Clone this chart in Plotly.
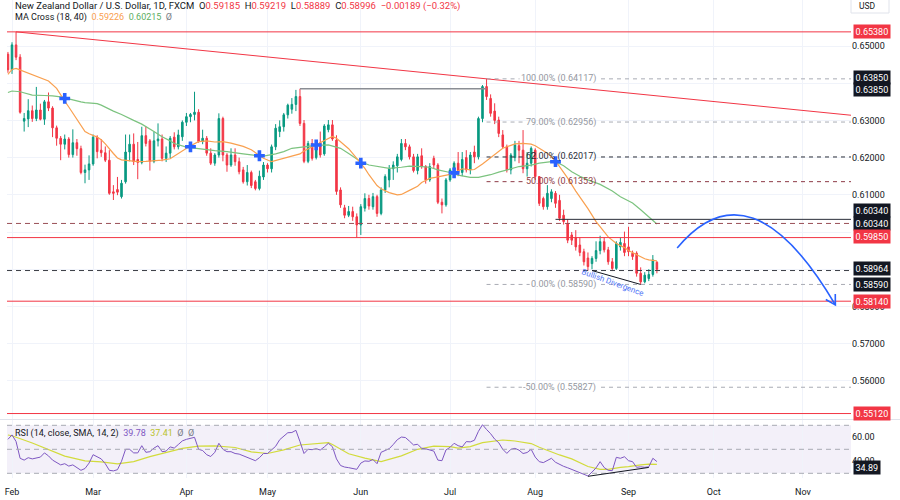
import math
import plotly.graph_objects as go
import pandas as pd

# ---------------- data ----------------
dates = pd.bdate_range("2023-01-31", "2023-09-12").strftime("%Y-%m-%d").tolist()
axis_days = pd.bdate_range("2023-01-31", "2023-11-30").strftime("%Y-%m-%d").tolist()

opens = [.6478, .6436, .6503, .6470, .6298, .6304, .6326, .6305, .6328, .6303,
         .6350, .6333, .6280, .6252, .6236, .6250, .6208, .6240, .6224, .6160,
         .6167, .6183, .6255, .6220, .6213, .6193, .6108, .6114, .6095, .6135,
         .6215, .6236, .6195, .6187, .6259, .6245, .6190, .6245, .6250, .6198,
         .6212, .6255, .6229, .6256, .6295, .6310, .6316, .6322, .6243, .6252,
         .6212, .6185, .6207, .6305, .6207, .6180, .6207, .6189, .6167, .6135,
         .6160, .6135, .6117, .6148, .6180, .6170, .6229, .6270, .6283, .6315,
         .6330, .6343, .6364, .6292, .6190, .6238, .6200, .6240, .6210, .6275,
         .6288, .6247, .6113, .6065, .6045, .6055, .6041, .6019, .6064, .6090,
         .6068, .6095, .6050, .6113, .6140, .6170, .6178, .6195, .6238, .6229,
         .6202, .6165, .6205, .6176, .6140, .6198, .6180, .6080, .6073, .6140,
         .6167, .6185, .6160, .6200, .6167, .6215, .6202, .6305, .6391, .6359,
         .6325, .6301, .6261, .6229, .6167, .6200, .6232, .6220, .6170, .6185,
         .6220, .6149, .6090, .6068, .6090, .6104, .6085, .6045, .6023, .5992,
         .5985, .5965, .5947, .5930, .5915, .5929, .5950, .5974, .5952, .5920,
         .5902, .5960, .5969, .5960, .5943, .5943, .5889, .5866, .5875, .5886,
         .59185]
highs = [.6484, .6510, .6538, .6478, .6320, .6357, .6340, .6390, .6345, .6355,
         .6375, .6338, .6286, .6258, .6262, .6255, .6276, .6250, .6232, .6181,
         .6206, .6262, .6260, .6250, .6230, .6220, .6126, .6148, .6140, .6262,
         .6262, .6265, .6242, .6283, .6284, .6250, .6270, .6292, .6262, .6230,
         .6258, .6268, .6275, .6300, .6320, .6320, .6377, .6330, .6275, .6258,
         .6225, .6212, .6319, .6310, .6212, .6225, .6225, .6200, .6175, .6180,
         .6165, .6140, .6165, .6188, .6185, .6235, .6290, .6300, .6320, .6345,
         .6360, .6382, .6385, .6301, .6245, .6250, .6240, .6270, .6290, .6301,
         .6301, .6260, .6120, .6073, .6070, .6068, .6050, .6075, .6104, .6100,
         .6105, .6100, .6120, .6155, .6180, .6190, .6210, .6250, .6250, .6235,
         .6210, .6210, .6225, .6180, .6185, .6205, .6185, .6090, .6145, .6172,
         .6190, .6215, .6215, .6220, .6215, .6232, .6310, .6395, .6412, .6370,
         .6346, .6310, .6274, .6235, .6212, .6245, .6245, .6274, .6215, .6230,
         .6225, .6150, .6095, .6126, .6115, .6110, .6100, .6060, .6034, .6000,
         .6005, .5985, .5955, .5945, .5935, .5975, .5990, .5985, .5960, .5930,
         .5975, .5985, .6001, .6014, .5950, .5948, .5905, .5892, .5900, .5938,
         .59219]
lows = [.6428, .6425, .6462, .6318, .6270, .6282, .6296, .6298, .6300, .6288,
        .6325, .6255, .6232, .6193, .6222, .6200, .6200, .6205, .6155, .6131,
        .6140, .6178, .6198, .6202, .6188, .6100, .6086, .6099, .6090, .6130,
        .6190, .6180, .6142, .6182, .6230, .6165, .6185, .6230, .6190, .6188,
        .6198, .6222, .6222, .6245, .6285, .6295, .6300, .6240, .6236, .6205,
        .6180, .6178, .6200, .6190, .6162, .6175, .6178, .6155, .6130, .6125,
        .6118, .6112, .6112, .6140, .6160, .6160, .6220, .6255, .6270, .6305,
        .6318, .6325, .6285, .6185, .6185, .6192, .6195, .6200, .6205, .6268,
        .6245, .6100, .6065, .6037, .6040, .6030, .5985, .5992, .6055, .6060,
        .6060, .6041, .6045, .6105, .6120, .6140, .6160, .6190, .6220, .6195,
        .6160, .6155, .6170, .6130, .6135, .6170, .6075, .6050, .6068, .6135,
        .6160, .6150, .6150, .6160, .6155, .6185, .6195, .6295, .6355, .6310,
        .6290, .6255, .6225, .6160, .6155, .6190, .6185, .6158, .6149, .6176,
        .6140, .6070, .6060, .6060, .6080, .6065, .6030, .6020, .5970, .5965,
        .5950, .5935, .5910, .5896, .5900, .5920, .5940, .5945, .5912, .5895,
        .5898, .5950, .5935, .5935, .5925, .5880, .5859, .5862, .5868, .5880,
        .58889]
closes = [.6436, .6503, .6470, .6322, .6305, .6326, .6305, .6328, .6303, .6350,
          .6333, .6280, .6252, .6236, .6250, .6208, .6240, .6224, .6160, .6167,
          .6183, .6255, .6216, .6213, .6193, .6104, .6104, .6107, .6131, .6215,
          .6236, .6189, .6187, .6259, .6238, .6190, .6245, .6250, .6198, .6212,
          .6252, .6229, .6261, .6295, .6310, .6316, .6322, .6243, .6252, .6212,
          .6185, .6207, .6305, .6207, .6180, .6207, .6189, .6162, .6135, .6160,
          .6125, .6117, .6150, .6180, .6170, .6229, .6279, .6283, .6315, .6341,
          .6343, .6364, .6292, .6190, .6238, .6198, .6232, .6207, .6285, .6288,
          .6250, .6109, .6073, .6045, .6055, .6041, .6019, .6068, .6090, .6070,
          .6095, .6050, .6113, .6149, .6170, .6180, .6202, .6238, .6229, .6202,
          .6165, .6202, .6176, .6140, .6176, .6180, .6080, .6073, .6140, .6167,
          .6185, .6160, .6195, .6167, .6207, .6202, .6305, .6391, .6364, .6319,
          .6300, .6265, .6229, .6167, .6207, .6234, .6220, .6170, .6185, .6225,
          .6149, .6077, .6068, .6104, .6108, .6077, .6037, .6028, .5978, .5978,
          .5960, .5945, .5920, .5907, .5929, .5950, .5974, .5952, .5920, .5902,
          .5969, .5972, .5945, .5947, .5934, .5889, .5866, .5884, .5886, .5925,
          .58996]
rsi = [58.3, 62, 56.5, 42.5, 41, 43, 42, 43, 43.5, 47,
       44.5, 41, 39, 37, 38, 36, 37, 35, 32.5, 34,
       38.5, 45.5, 43.5, 42, 38, 32.5, 32, 33, 40, 50,
       50, 47, 47, 53, 47.5, 48, 51, 53, 48, 48.5,
       52, 51, 54, 57, 58.3, 59, 60, 50, 49, 45.5,
       44, 47.5, 55, 50, 48, 48, 46.5, 46, 44.5, 43,
       42, 40.5, 43, 46.5, 46.5, 49.5, 52.5, 58, 60.8, 63.8,
       64, 65.8, 56.4, 46.5, 50, 49.7, 50.5, 49.4, 52, 55,
       52.2, 42, 36.5, 35.2, 34.7, 34, 33.3, 38.5, 40.3, 40,
       41.5, 38, 47.5, 49, 50.5, 54, 58, 60.2, 59.8, 56.8,
       53.6, 54.2, 50.8, 50.4, 49.5, 48.5, 41, 40.5, 49.5, 51.6,
       55, 53, 52, 56.4, 56.2, 57.5, 65, 70.5, 66.5, 63,
       58.5, 55.5, 50, 46.6, 50, 50.8, 49.3, 46.5, 47.3, 50,
       43.5, 39.7, 38.9, 40.5, 42.5, 39.2, 37.2, 35.8, 34.6, 33.2,
       31.7, 30.3, 29.2, 27.8, 31, 34.5, 39.7, 34.8, 32.5, 32.2,
       43.3, 42.5, 43.8, 40.5, 39.7, 35, 35.4, 35, 35.4, 42.5,
       39.78]

# indicator lines; "day" = trading day counted from 1 Feb 2023 (= 0)
ma18_day = [-1, 0, 1, 2, 4, 5, 7, 9, 11, 12, 13, 14, 15, 16, 17, 18, 19, 21, 22, 23,
            25, 26, 27, 29, 31, 33, 35, 37, 39, 41, 43, 44, 46, 48, 50, 52, 54, 56, 57, 59,
            61, 62, 64, 66, 67, 69, 71, 72, 74, 75, 76, 78, 79, 80, 82, 83, 85, 87, 88, 90,
            91, 93, 95, 96, 98, 100, 101, 103, 105, 106, 108, 109, 110, 111, 113, 114, 116, 118, 120, 121,
            123, 124, 126, 128, 129, 131, 132, 134, 136, 137, 139, 141, 142, 144, 146, 147, 149, 151, 152, 154,
            156, 157, 159]
ma18 = [.6424, .6437, .6440, .6436, .6427, .6422, .6416, .6406, .6386, .6368, .6352, .6336, .6320, .6302, .6285, .6270, .6264, .6255, .6248, .6237,
        .6211, .6199, .6194, .6191, .6189, .6190, .6191, .6193, .6197, .6211, .6224, .6232, .6243, .6245, .6242, .6243, .6239, .6233, .6230, .6221,
        .6207, .6198, .6189, .6195, .6200, .6205, .6210, .6218, .6229, .6234, .6240, .6252, .6257, .6252, .6235, .6224, .6198, .6171, .6154, .6125,
        .6116, .6106, .6100, .6101, .6112, .6123, .6133, .6144, .6148, .6150, .6155, .6159, .6165, .6170, .6167, .6168, .6183, .6200, .6215, .6225,
        .6233, .6237, .6238, .6236, .6232, .6220, .6212, .6191, .6160, .6145, .6110, .6080, .6063, .6028, .6002, .5987, .5969, .5958, .5950, .5938,
        .5928, .5925, .59226]
ma40_day = [-1, 0, 2, 4, 5, 8, 10, 13, 14, 17, 18, 21, 22, 25, 27, 30, 32, 35, 37, 39,
            40, 43, 45, 48, 50, 53, 55, 57, 60, 62, 65, 67, 69, 72, 75, 78, 81, 83, 86, 88,
            91, 93, 96, 98, 101, 103, 105, 108, 110, 113, 115, 118, 120, 123, 125, 128, 130, 133, 134, 136,
            138, 140, 142, 145, 148, 150, 153, 155, 157, 159]
ma40 = [.6375, .6379, .6377, .6371, .6368, .6367, .6366, .6362, .6358, .6350, .6348, .6345, .6341, .6325, .6316, .6300, .6290, .6270, .6256, .6245,
        .6238, .6228, .6225, .6222, .6219, .6216, .6214, .6210, .6206, .6204, .6210, .6216, .6225, .6229, .6233, .6234, .6225, .6211, .6189, .6180,
        .6174, .6171, .6174, .6177, .6176, .6174, .6167, .6160, .6153, .6147, .6147, .6154, .6161, .6169, .6176, .6180, .6185, .6189, .6189, .6178,
        .6162, .6150, .6140, .6128, .6110, .6095, .6078, .6060, .6042, .60215]
rsi_ma_day = [-1, 0, 5, 9, 13, 18, 22, 26, 30, 34, 38, 42, 46, 50, 55, 59, 63, 67, 71, 75,
              78, 79, 83, 87, 91, 96, 100, 104, 108, 110, 113, 116, 119, 121, 124, 128, 130, 133, 135, 138,
              140, 142, 145, 147, 150, 152, 155, 157, 159]
rsi_ma = [61.9, 61.3, 55.2, 49.6, 44.3, 40.3, 39.6, 37.9, 39.7, 43.9, 47.1, 50.7, 52.7, 52.8, 51.5, 47.9, 46.5, 49.5, 53.6, 55.0,
          55.5, 54.0, 46.3, 42.6, 39.8, 44.5, 50.0, 52.7, 52.2, 51.0, 52.2, 55.5, 57.2, 57.75, 56.9, 54.8, 51.7, 47.6, 45.3, 42.0,
          38.9, 35.7, 33.3, 33.3, 35.0, 35.5, 37.0, 37.7, 37.41]

cross_dates = ["2023-02-20", "2023-04-04", "2023-04-27", "2023-05-17", "2023-06-01", "2023-07-04", "2023-08-08"]
cross_prices = [0.6359, 0.6229, 0.6205, 0.6234, 0.6185, 0.6159, 0.6189]

month_dates = ["2023-02-01", "2023-03-01", "2023-04-03", "2023-05-01", "2023-06-01",
               "2023-07-03", "2023-08-01", "2023-09-01", "2023-10-02", "2023-11-01"]
month_labels = ["Feb", "Mar", "Apr", "May", "Jun", "Jul", "Aug", "Sep", "Oct", "Nov"]
price_ticks = [0.56, 0.57, 0.58, 0.59, 0.60, 0.61, 0.62, 0.63, 0.64, 0.65]
price_ticks_hidden = [0.59, 0.60, 0.64]   # labels covered by the drawing tags in the reference
rsi_ticks = [40, 60]

red_levels = [0.6538, 0.5985, 0.5814, 0.5512]
dark_dashed_level = 0.58964
maroon_dashed_level = 0.6023
fib_pct = ["100.00%", "79.00%", "62.00%", "50.00%", "0.00%", "-50.00%"]
fib_price = [0.64117, 0.62956, 0.62017, 0.61353, 0.58590, 0.55827]
fib_start = "2023-07-14"
trend_pts = [("2023-02-02", 0.6538), ("2023-07-14", 0.64117)]
range_top = [("2023-05-11", 0.6385), ("2023-07-14", 0.6385)]
support_start = ("2023-08-08", 0.6034)
div_price = [("2023-08-21", 0.58964), ("2023-09-06", 0.58590)]
div_rsi = [("2023-08-18", 27.48), ("2023-09-08", 34.89)]
arrow_pts = [("2023-09-19", 0.5957), ("2023-10-13", 0.6193), ("2023-11-13", 0.5804)]
div_label = ("2023-08-28", 0.5864)

# ---------------- geometry / style ----------------
FONT = "Roboto"
W, H = 900, 500
ML, MR, MT, MB = 7, 49, 0, 22
PW, PH = W - ML - MR, H - MT - MB
MAIN_PX = 419
RSI_TOP_PX = 420
UP, DOWN = "#089981", "#F23645"
GRID = "#F0F3FA"
TXT = "#131722"
ORANGE, GREEN = "#F9A04F", "#7CC37F"
PURPLE, YELLOW = "#7E57C2", "#D2DB3C"

POS = {d: k for k, d in enumerate(axis_days)}
def X(d):
    return POS[d]
FEB1 = X("2023-02-01")
BAR_PX = 4.056
X_LO = FEB1 + (ML - 12) / BAR_PX
X_HI = X_LO + PW / BAR_PX
Y_LO, Y_HI = 0.549731, 0.662366
R_LO, R_HI = 26.08, 74.42
MAIN_DOM0 = (PH - MAIN_PX) / PH
RSI_DOM1 = (PH - RSI_TOP_PX) / PH

def x2px(x): return ML + (x - X_LO) / (X_HI - X_LO) * PW
def px2x(px): return X_LO + (px - ML) / PW * (X_HI - X_LO)
def y2px(y): return MT + (Y_HI - y) / (Y_HI - Y_LO) * MAIN_PX
def px2y(py): return Y_HI - (py - MT) / MAIN_PX * (Y_HI - Y_LO)

fig = go.Figure()
fig.add_trace(go.Candlestick(
    x=[X(d) for d in dates], open=opens, high=highs, low=lows, close=closes,
    increasing=dict(line=dict(color=UP, width=1), fillcolor=UP),
    decreasing=dict(line=dict(color=DOWN, width=1), fillcolor=DOWN),
    whiskerwidth=0, hoverinfo="skip", showlegend=False, xaxis="x", yaxis="y"))
fig.add_trace(go.Scatter(x=[FEB1 + d for d in ma40_day], y=ma40, mode="lines",
                         line=dict(color=GREEN, width=1.2), hoverinfo="skip", xaxis="x", yaxis="y"))
fig.add_trace(go.Scatter(x=[FEB1 + d for d in ma18_day], y=ma18, mode="lines",
                         line=dict(color=ORANGE, width=1.2), hoverinfo="skip", xaxis="x", yaxis="y"))
fig.add_trace(go.Scatter(x=[X(d) for d in cross_dates], y=cross_prices, mode="markers",
                         marker=dict(symbol="cross", size=9, color="#2962FF", line=dict(width=0)),
                         hoverinfo="skip", xaxis="x", yaxis="y"))
fig.add_trace(go.Scatter(x=[FEB1 + d for d in rsi_ma_day], y=rsi_ma, mode="lines",
                         line=dict(color=YELLOW, width=1.2), hoverinfo="skip", xaxis="x2", yaxis="y2"))
fig.add_trace(go.Scatter(x=[X(d) for d in dates], y=rsi, mode="lines",
                         line=dict(color=PURPLE, width=1), hoverinfo="skip", xaxis="x2", yaxis="y2"))

shapes = []
def line(x0, y0, x1, y1, color, width=1, dash="solid", xref="x", yref="y", layer="above"):
    shapes.append(dict(type="line", xref=xref, yref=yref, x0=x0, y0=y0, x1=x1, y1=y1,
                       line=dict(color=color, width=width, dash=dash), layer=layer))

# RSI pane band and levels
shapes.append(dict(type="rect", xref="paper", yref="y2", x0=0, x1=1, y0=30, y1=70,
                   fillcolor="rgba(126,87,194,0.09)", line=dict(width=0), layer="below"))
for lv in (70, 50, 30):
    line(0, lv, 1, lv, "#A8ABB3", 1, "5px,4px", xref="paper", yref="y2")
# pane separator
line(-0.01, 1 - (MAIN_PX + 0.5) / PH, 1.06, 1 - (MAIN_PX + 0.5) / PH, "#E0E3EB", 1,
     xref="paper", yref="paper")

for lv in red_levels:
    line(0, lv, 1, lv, DOWN, 1, xref="paper")
line(0, dark_dashed_level, 1, dark_dashed_level, "#3A3D45", 1, "5px,4px", xref="paper")
line(0, maroon_dashed_level, 1, maroon_dashed_level, "#9A4F57", 1, "5px,4px", xref="paper")

# descending trend line (ray to the right edge)
(ta, pa), (tb, pb) = trend_pts
slope = (pb - pa) / (X(tb) - X(ta))
line(X(ta), pa, X_HI, pa + slope * (X_HI - X(ta)), DOWN, 1)
# range top and support segment
line(X(range_top[0][0]), range_top[0][1], X(range_top[1][0]), range_top[1][1], "#8A8D94", 1.5)
line(X(support_start[0]), support_start[1], X_HI, support_start[1], "#2A2E39", 1)

# fibonacci levels
fib_colors = ["#A9ACB4", "#A9ACB4", "#2A2E39", "#8E3B46", "#A9ACB4", "#A9ACB4"]
CW = {".": 2.4, "%": 6.6, " ": 2.2, "(": 3.1, ")": 3.1, "-": 2.7}
annotations = []
LABEL_R = 598
for pct, pr, col in zip(fib_pct, fib_price, fib_colors):
    txt = f"{pct} ({pr:.5f})"
    wpx = sum(CW.get(c, 5.06) for c in txt)
    line(X(fib_start), pr, px2x(LABEL_R - wpx - 3), pr, col, 1, "4px,4px")
    line(px2x(LABEL_R + 3), pr, X_HI, pr, col, 1, "4px,4px")
    annotations.append(dict(text=txt, xref="x", yref="y", x=px2x(LABEL_R), y=pr, xanchor="right",
                            yanchor="middle", showarrow=False,
                            font=dict(family=FONT, size=9, color=col if col != "#A9ACB4" else "#9598A1")))

# divergence lines
line(X(div_price[0][0]), div_price[0][1], X(div_price[1][0]), div_price[1][1], TXT, 1)
line(X(div_rsi[0][0]), div_rsi[0][1], X(div_rsi[1][0]), div_rsi[1][1], TXT, 1, xref="x2", yref="y2")

# curved projection arrow
(s_d, s_p), (c_d, c_p), (e_d, e_p) = arrow_pts
shapes.append(dict(type="path", xref="x", yref="y",
                   path=f"M {X(s_d)},{s_p} Q {X(c_d)},{c_p} {X(e_d)},{e_p}",
                   line=dict(color="#2962FF", width=1.6), layer="above"))
cx, cy = x2px(X(c_d)), y2px(c_p)
ex, ey = x2px(X(e_d)), y2px(e_p)
dl = math.hypot(ex - cx, ey - cy)
bx, by = -(ex - cx) / dl, -(ey - cy) / dl
wings = []
for ang in (math.radians(30), -math.radians(30)):
    wx = bx * math.cos(ang) - by * math.sin(ang)
    wy = bx * math.sin(ang) + by * math.cos(ang)
    wings.append((px2x(ex + 11 * wx), px2y(ey + 11 * wy)))
shapes.append(dict(type="path", xref="x", yref="y",
                   path=f"M {wings[0][0]},{wings[0][1]} L {X(e_d)},{e_p} L {wings[1][0]},{wings[1][1]}",
                   line=dict(color="#2962FF", width=1.6), layer="above"))

# text helpers
def pxa(text, px, py, size=9, color=TXT, xanchor="left", **kw):
    d = dict(text=text, xref="paper", yref="paper", x=(px - ML) / PW, y=1 - (py - MT) / PH,
             xanchor=xanchor, yanchor="middle", showarrow=False,
             font=dict(family=FONT, size=size, color=color))
    d.update(kw)
    return d

def red(t):
    return f'<span style="color:{DOWN}">{t}</span>'

annotations.append(pxa("New Zealand Dollar / U.S. Dollar, 1D, FXCM  O" + red("0.59185") + "  H" + red("0.59219")
                       + "  L" + red("0.58889") + "  C" + red("0.58996") + "  " + red("\u22120.00189 (\u22120.32%)"),
                       13, 6, size=9.5))
annotations.append(pxa(f'MA Cross (18, 40)  <span style="color:{ORANGE}">0.59226</span>  '
                       f'<span style="color:#5DAE62">0.60215</span>  <span style="color:#787B86">\u00d8</span>',
                       13, 17.5))
annotations.append(pxa(f'RSI (14, close, SMA, 14, 2)  <span style="color:{PURPLE}">39.78</span>  '
                       f'<span style="color:#B9C22A">37.41</span>  <span style="color:#787B86">\u00d8  \u00d8</span>',
                       13, 433))
annotations.append(dict(text="Bullish Divergence", xref="x", yref="y", x=X(div_label[0]), y=div_label[1],
                        textangle=20, showarrow=False, font=dict(family=FONT, size=8, color="#4F74F7")))

# price-scale boxes
def box(text, yval, bg, yref="y", yshift=0):
    annotations.append(dict(text=text, xref="paper", x=1, xanchor="left", xshift=1.5, yref=yref, y=yval,
                            yanchor="middle", yshift=yshift, showarrow=False, bgcolor=bg, borderpad=1.5,
                            font=dict(family=FONT, size=9, color="white")))
box("0.65380", 0.6538, DOWN)
box("0.63850", 0.6385, TXT, yshift=11)
box("0.63850", 0.6385, TXT, yshift=-1)
box("0.60340", 0.6034, TXT, yshift=9)
box("0.60340", 0.6034, TXT, yshift=-4)
box("0.59850", 0.5985, DOWN, yshift=1)
box("0.58964", 0.58964, TXT, yshift=2)
box("0.58590", 0.5859, TXT)
box("0.58140", 0.5814, DOWN)
box("0.55120", 0.5512, DOWN)
box("34.89", 34.89, TXT, yref="y2")

# currency button
shapes.append(dict(type="rect", xref="paper", yref="paper", x0=(851 - ML) / PW, x1=(889 - ML) / PW,
                   y0=1 - 13 / PH, y1=1.01, line=dict(color="#E0E3EB", width=1), fillcolor="white"))
annotations.append(pxa("USD", 857, 6.5, size=8.5))

month_pos = [X(d) for d in month_dates]
price_text = ["" if any(abs(v - h) < 1e-9 for h in price_ticks_hidden) else f"{v:.5f}" for v in price_ticks]
fig.update_layout(
    width=W, height=H, margin=dict(l=ML, r=MR, t=MT, b=MB),
    paper_bgcolor="white", plot_bgcolor="white", showlegend=False, hovermode=False,
    boxgap=0.45, font=dict(family=FONT, size=9, color=TXT),
    xaxis=dict(domain=[0, 1], anchor="y", range=[X_LO, X_HI], tickvals=month_pos, showticklabels=False,
               showgrid=True, gridcolor=GRID, zeroline=False, ticks="", rangeslider=dict(visible=False)),
    xaxis2=dict(domain=[0, 1], anchor="y2", range=[X_LO, X_HI], tickvals=month_pos, ticktext=month_labels,
                showgrid=True, gridcolor=GRID, zeroline=False, ticks="outside", ticklen=5,
                tickcolor="rgba(0,0,0,0)", tickfont=dict(family=FONT, size=9, color=TXT)),
    yaxis=dict(domain=[MAIN_DOM0, 1], anchor="x", range=[Y_LO, Y_HI], side="right", tickvals=price_ticks,
               ticktext=price_text, showgrid=True, gridcolor=GRID, zeroline=False,
               ticks="", tickfont=dict(family=FONT, size=9, color=TXT)),
    yaxis2=dict(domain=[0, RSI_DOM1], anchor="x2", range=[R_LO, R_HI], side="right", tickvals=rsi_ticks,
                ticktext=["40.00", "60.00"], showgrid=False, zeroline=False, ticks="",
                tickfont=dict(family=FONT, size=9, color=TXT)),
    shapes=shapes, annotations=annotations,
)
fig.write_html("out.html")
